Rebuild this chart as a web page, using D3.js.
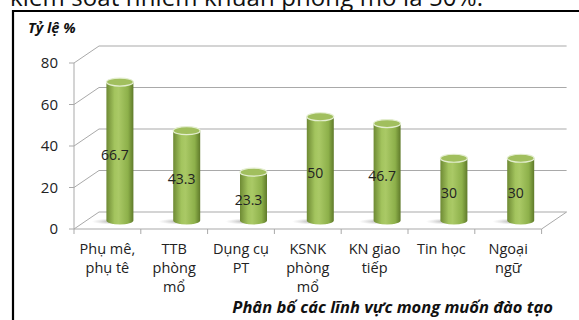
<!DOCTYPE html>
<html>
<head>
<meta charset="utf-8">
<script src="https://cdn.jsdelivr.net/npm/d3@7"></script>
<style>
  body { margin: 0; background: #fff; }
  svg { display: block; font-family: "Open Sans", sans-serif; }
</style>
</head>
<body>
<svg id="chart" width="579" height="320"></svg>
<script>
const categories = [["Phụ mê,", "phụ tê"], ["TTB", "phòng", "mổ"], ["Dụng cụ", "PT"],
    ["KSNK", "phòng", "mổ"], ["KN giao", "tiếp"], ["Tin học"], ["Ngoại", "ngữ"]]
const values = [66.7, 43.3, 23.3, 50, 46.7, 30, 30]
const yTicks = [0, 20, 40, 60, 80]

const svg = d3.select("#chart")

// cut-off paragraph text above the figure
svg.append("text")
    .attr("x", 10).attr("y", 6)
    .attr("font-size", 24)
    .attr("textLength", 473)
    .attr("fill", "#111")
    .text("kiểm soát nhiễm khuẩn phòng mổ là 50%.")

// figure frame
svg.append("path")
    .attr("d", "M13,320 V11 H579")
    .attr("fill", "none")
    .attr("stroke", "#000")
    .attr("stroke-width", 2.2)

const left = 74, right = 541.6, depthX = 25, depthY = 17

const x = d3.scaleBand()
    .domain(d3.range(categories.length))
    .range([left, right])

const y = d3.scaleLinear()
    .domain([0, 80])
    .range([229, 63])

const grid = svg.append("g")
    .attr("stroke", "#a9a9a9")
    .attr("stroke-width", 1)
    .attr("fill", "none")

// back wall gridlines + left wall diagonals
yTicks.forEach(t => {
    grid.append("path")
        .attr("d", `M${left},${y(t)} L${left + depthX},${y(t) - depthY} H${right + depthX}`)
})
// floor outline
grid.append("path")
    .attr("d", `M${left},${y(0)} H${right} L${right + depthX},${y(0) - depthY}`)
// vertical axis
grid.append("line")
    .attr("x1", left).attr("x2", left)
    .attr("y1", y(80)).attr("y2", y(0))

// y ticks
yTicks.forEach(t => {
    grid.append("line")
        .attr("x1", left - 5).attr("x2", left)
        .attr("y1", y(t)).attr("y2", y(t))
})
// category ticks
d3.range(categories.length + 1).forEach(i => {
    const xx = left + i * x.step()
    grid.append("line")
        .attr("x1", xx).attr("x2", xx)
        .attr("y1", y(0)).attr("y2", y(0) + 5)
})

svg.append("g").selectAll("text")
    .data(yTicks)
    .enter()
    .append("text")
    .attr("x", 58)
    .attr("y", d => y(d))
    .attr("dy", "0.36em")
    .attr("text-anchor", "end")
    .attr("font-size", 15)
    .attr("fill", "#222")
    .text(d => d)

svg.append("text")
    .attr("x", 28).attr("y", 33)
    .attr("font-size", 14.5)
    .attr("font-weight", "bold")
    .attr("font-style", "italic")
    .attr("fill", "#111")
    .text("Tỷ lệ %")

// gradients for the cylinders
const defs = svg.append("defs")
const body = defs.append("linearGradient").attr("id", "cyl")
    .attr("x1", "0%").attr("x2", "100%")
body.append("stop").attr("offset", "0%").attr("stop-color", "#6e8a34")
body.append("stop").attr("offset", "30%").attr("stop-color", "#a3c45e")
body.append("stop").attr("offset", "45%").attr("stop-color", "#aac966")
body.append("stop").attr("offset", "80%").attr("stop-color", "#8db04a")
body.append("stop").attr("offset", "100%").attr("stop-color", "#5f7a2a")

const shadow = defs.append("radialGradient").attr("id", "shadow")
shadow.append("stop").attr("offset", "0%").attr("stop-color", "#999").attr("stop-opacity", 0.8)
shadow.append("stop").attr("offset", "100%").attr("stop-color", "#bbb").attr("stop-opacity", 0)

const barW = 27, ry = 4

const bars = svg.append("g").selectAll("g")
    .data(values)
    .enter()
    .append("g")

const cx = (d, i) => x(i) + x.bandwidth() / 2 + depthX / 2
const yb = y(0) - depthY / 2

bars.append("ellipse")
    .attr("cx", (d, i) => cx(d, i) - 8)
    .attr("cy", yb + 1)
    .attr("rx", barW * 0.75)
    .attr("ry", 3)
    .attr("fill", "url(#shadow)")

bars.append("path")
    .attr("d", (d, i) => {
        const c = cx(d, i), top = y(d) - depthY / 2
        return `M${c - barW / 2},${top} V${yb} A${barW / 2},${ry} 0 0 0 ${c + barW / 2},${yb} V${top} Z`
    })
    .attr("fill", "url(#cyl)")

bars.append("ellipse")
    .attr("cx", (d, i) => cx(d, i))
    .attr("cy", d => y(d) - depthY / 2)
    .attr("rx", barW / 2)
    .attr("ry", ry)
    .attr("fill", "#a1bf5e")
    .attr("stroke", "#e4eed0")
    .attr("stroke-width", 1.2)

bars.append("text")
    .attr("x", (d, i) => cx(d, i) - 5)
    .attr("y", d => (yb + y(d) - depthY / 2) / 2 + 4)
    .attr("dy", "0.35em")
    .attr("text-anchor", "middle")
    .attr("font-size", 14)
    .attr("fill", "#222")
    .text(d => d)

// category labels
const catLabels = svg.append("g").selectAll("text")
    .data(categories)
    .enter()
    .append("text")
    .attr("text-anchor", "middle")
    .attr("font-size", 14.5)
    .attr("fill", "#222")

catLabels.selectAll("tspan")
    .data((d, i) => d.map(s => ({ s, i })))
    .enter()
    .append("tspan")
    .attr("x", d => x(d.i) + x.bandwidth() / 2)
    .attr("y", (d, j) => 254 + j * 19)
    .text(d => d.s)

svg.append("text")
    .attr("x", 553).attr("y", 313)
    .attr("text-anchor", "end")
    .attr("font-size", 16.5)
    .attr("font-weight", "bold")
    .attr("font-style", "italic")
    .attr("fill", "#111")
    .text("Phân bố các lĩnh vực mong muốn đào tạo")
</script>
</body>
</html>
